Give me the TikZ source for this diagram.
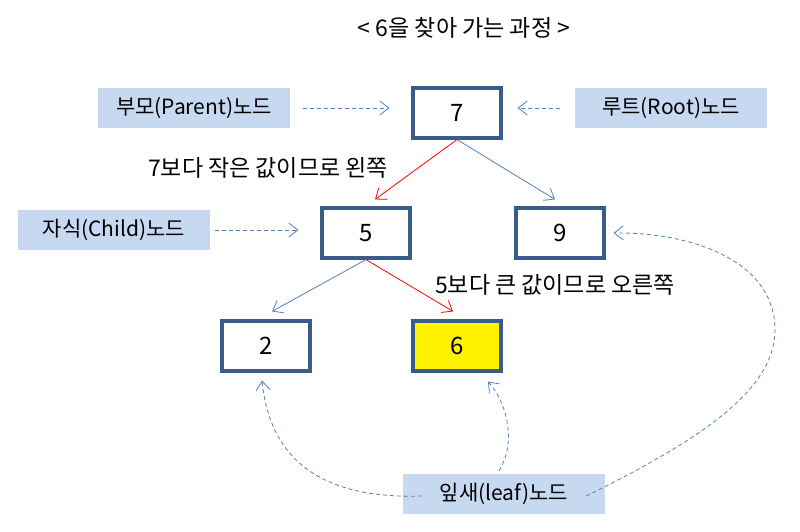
\documentclass[tikz,border=0pt]{standalone}
\usepackage{fontspec}
\setmainfont{Noto Sans CJK KR}
\usepackage{tikz}
\usetikzlibrary{arrows.meta,positioning,calc}
\definecolor{nodeedge}{HTML}{3B5B8A}
\definecolor{tagfill}{HTML}{C6D9F1}
\definecolor{linkblue}{HTML}{4F81BD}
\tikzset{
  key/.style={rectangle,draw=nodeedge,line width=3.2pt,fill=white,
    minimum width=88pt,minimum height=50pt,font=\fontsize{24}{28}\selectfont},
  found/.style={key,fill=yellow},
  tag/.style={rectangle,fill=tagfill,minimum width=192pt,minimum height=40pt,
    font=\fontsize{21}{24}\selectfont},
  note/.style={font=\fontsize{23}{26}\selectfont},
  edge/.style={-{Straight Barb[length=9pt,width=14pt]},line width=0.8pt},
  hint/.style={-{Straight Barb[length=9pt,width=14pt]},line width=0.8pt,
    draw=linkblue,dashed,dash pattern=on 4pt off 3pt},
}

\begin{document}
\begin{tikzpicture}[x=1pt,y=-1pt]
  \useasboundingbox (0,0) rectangle (800,532);
  \node[note,font=\fontsize{23}{26}\selectfont] (title) at (464,28) {< 6을 찾아 가는 과정 >};

  \node[key] (k7) at (457,113) {7};
  \node[key] (k5) at (366,233) {5};
  \node[key] (k9) at (560,233) {9};
  \node[key] (k2) at (266,346) {2};
  \node[found] (k6) at (457,346) {6};

  \node[tag] (parent) at (194,108) {부모(Parent)노드};
  \node[tag] (root) at (671,108) {루트(Root)노드};
  \node[tag] (child) at (114,230) {자식(Child)노드};
  \node[tag,minimum width=202pt] (leaf) at (504,494) {잎새(leaf)노드};

  \node[note] (left) at (268,168) {7보다 작은 값이므로 왼쪽};
  \node[note] (right) at (555,285) {5보다 큰 값이므로 오른쪽};

  % search path
  \draw[edge,red] (k7.south) -- ($(k5.north)+(9,-7)$);
  \draw[edge,linkblue] (k7.south) -- ($(k9.north)+(-5,-7)$);
  \draw[edge,linkblue] (k5.south) -- ($(k2.north)+(6,-8)$);
  \draw[edge,red] (k5.south) -- ($(k6.north)+(-4,-8)$);

  % labels
  \draw[hint] ($(parent.east)+(13,0)$) -- ($(k7.west)+(-22,-5)$);
  \draw[hint] ($(root.west)+(-15,0)$) -- ($(k7.east)+(15,-5)$);
  \draw[hint] ($(child.east)+(5,0)$) -- ($(k5.west)+(-22,-3)$);
  \draw[hint] ($(leaf.west)+(19,2)$) .. controls (300,500) and (268,440) .. ($(k2.south)+(-4,8)$);
  \draw[hint] ($(leaf.north)+(-5,-3)$) .. controls (518,440) and (505,400) .. ($(k6.south)+(31,9)$);
  \draw[hint] ($(leaf.east)+(-19,2)$) .. controls (700,440) and (775,390) .. (775,330)
    .. controls (775,260) and (690,232) .. ($(k9.east)+(8,0)$);
\end{tikzpicture}
\end{document}
